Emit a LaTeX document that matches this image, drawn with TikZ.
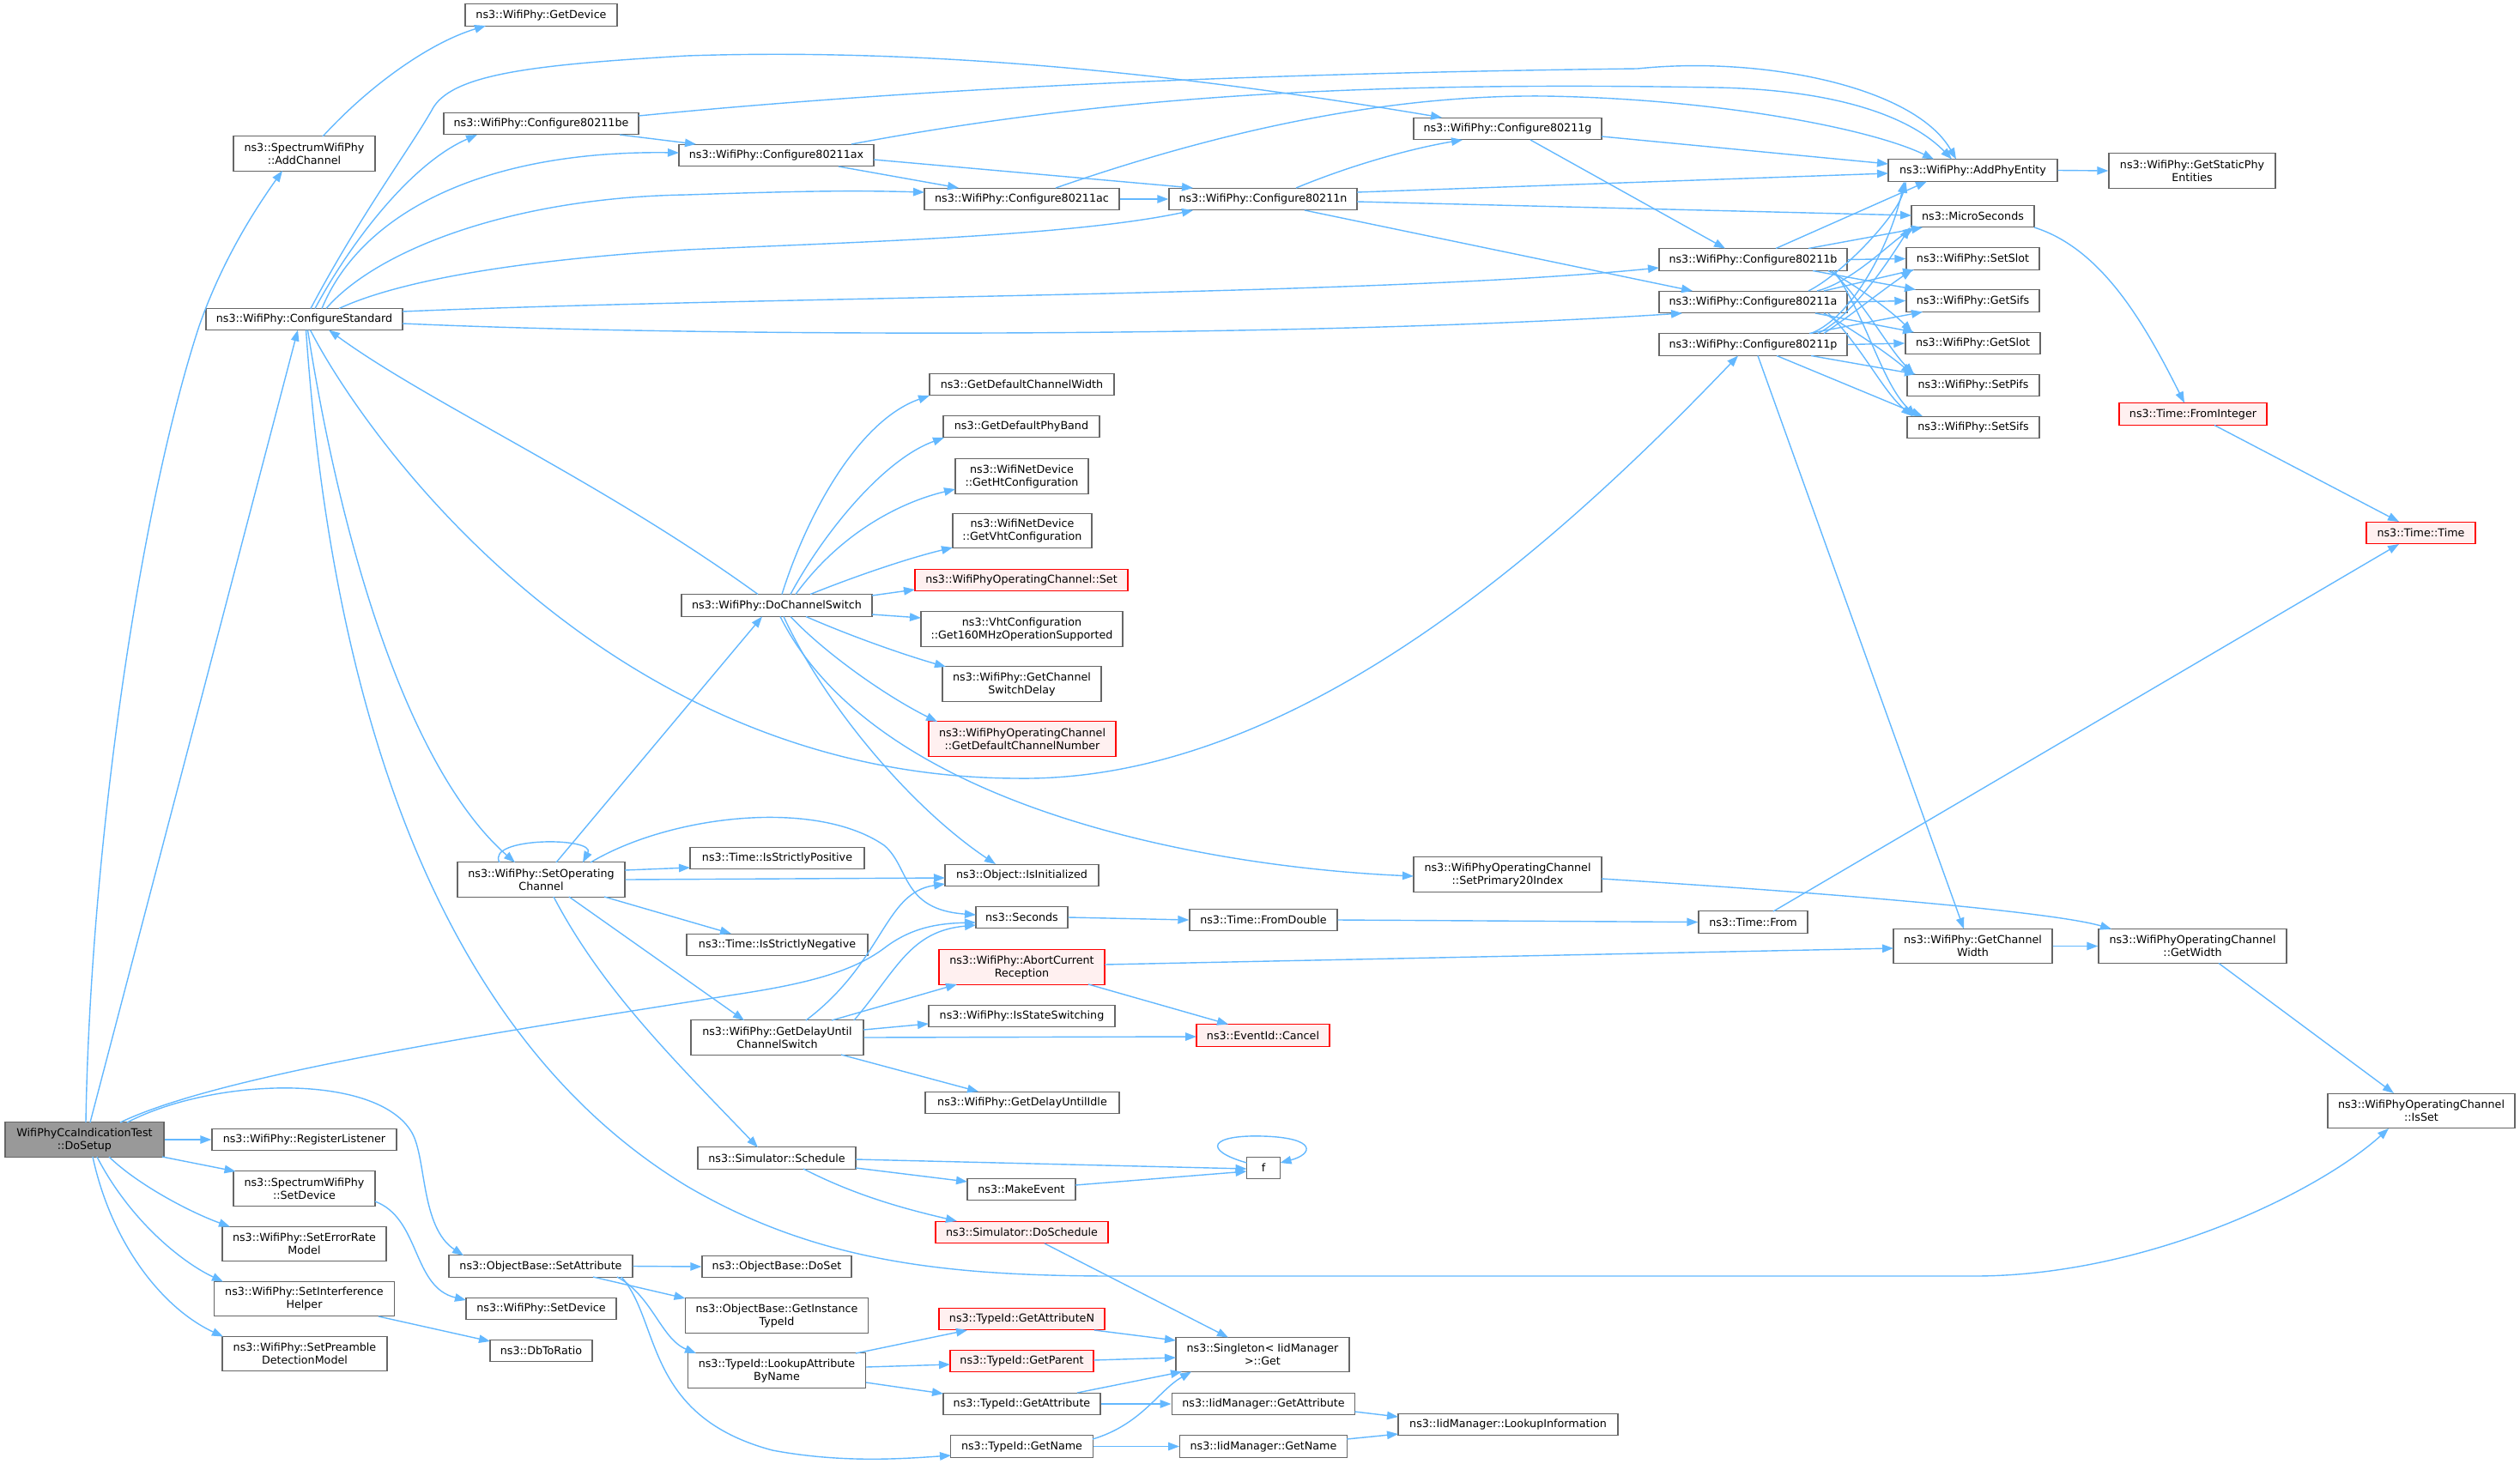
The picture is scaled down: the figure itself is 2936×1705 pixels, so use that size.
\documentclass[tikz,border=0pt]{standalone}
\usepackage{fontspec}
\setmainfont{DejaVu Sans}
\usetikzlibrary{arrows.meta,calc}
\definecolor{edgec}{HTML}{63B8FF}
\definecolor{boxb}{HTML}{666666}
\definecolor{redfill}{HTML}{FFF0F0}
\definecolor{grayfill}{HTML}{999999}
\begin{document}
\begin{tikzpicture}[x=1pt,y=-1pt,
  box/.style={draw=boxb, fill=white, line width=1.4pt, inner sep=0pt, align=center, font=\fontsize{12.7}{15}\selectfont, minimum height=25.5pt},
  box2/.style={box, minimum height=40.5pt},
  redbox/.style={draw=red, fill=redfill},
  rootbox/.style={fill=grayfill},
  edge/.style={draw=edgec, line width=1.4pt, -{Triangle[length=13pt,width=9.5pt]}},
]
\useasboundingbox (0,0) rectangle (2936,1705);
% ---------------- nodes ----------------
\node[box2, rootbox, minimum width=185pt] (dosetup) at (98.5,1328) {WifiPhyCcaIndicationTest\\::DoSetup};
\node[box, minimum width=177pt] (getdevice) at (630.5,17.5) {ns3::WifiPhy::GetDevice};
\node[box2, minimum width=165pt] (addchannel) at (354.5,179) {ns3::SpectrumWifiPhy\\::AddChannel};
\node[box, minimum width=229pt] (cfgstd) at (354.5,372) {ns3::WifiPhy::ConfigureStandard};
\node[box, minimum width=227pt] (be) at (630.5,144) {ns3::WifiPhy::Configure80211be};
\node[box, minimum width=227pt] (ax) at (904.5,181) {ns3::WifiPhy::Configure80211ax};
\node[box, minimum width=227pt] (ac) at (1190.5,232) {ns3::WifiPhy::Configure80211ac};
\node[box, minimum width=219pt] (nn) at (1471.5,232) {ns3::WifiPhy::Configure80211n};
\node[box, minimum width=219pt] (gg) at (1756.5,150) {ns3::WifiPhy::Configure80211g};
\node[box, minimum width=219pt] (bb) at (2042.5,302.5) {ns3::WifiPhy::Configure80211b};
\node[box, minimum width=219pt] (aa) at (2042.5,352) {ns3::WifiPhy::Configure80211a};
\node[box, minimum width=219pt] (pp) at (2042.5,401.5) {ns3::WifiPhy::Configure80211p};
\node[box, minimum width=197pt] (addphy) at (2298.5,198.5) {ns3::WifiPhy::AddPhyEntity};
\node[box2, minimum width=194pt] (getstatic) at (2554,199) {ns3::WifiPhy::GetStaticPhy\\Entities};
\node[box, minimum width=143pt] (micro) at (2298.5,252) {ns3::MicroSeconds};
\node[box, minimum width=155pt] (setslot) at (2298.5,301.5) {ns3::WifiPhy::SetSlot};
\node[box, minimum width=155pt] (getsifs) at (2298.5,350.5) {ns3::WifiPhy::GetSifs};
\node[box, minimum width=157pt] (getslot) at (2298.5,400) {ns3::WifiPhy::GetSlot};
\node[box, minimum width=154pt] (setpifs) at (2299,449) {ns3::WifiPhy::SetPifs};
\node[box, minimum width=154pt] (setsifs) at (2299,498) {ns3::WifiPhy::SetSifs};
\node[box, redbox, minimum width=172pt] (fromint) at (2555,482.5) {ns3::Time::FromInteger};
\node[box, redbox, minimum width=127pt] (timetime) at (2820.5,621) {ns3::Time::Time};
\node[box, minimum width=215pt] (defcw) at (1190.5,448) {ns3::GetDefaultChannelWidth};
\node[box, minimum width=182pt] (defband) at (1190,497) {ns3::GetDefaultPhyBand};
\node[box2, minimum width=155pt] (htcfg) at (1190.5,555) {ns3::WifiNetDevice\\::GetHtConfiguration};
\node[box2, minimum width=162pt] (vhtcfg) at (1191,618.5) {ns3::WifiNetDevice\\::GetVhtConfiguration};
\node[box, redbox, minimum width=248pt] (opset) at (1190,676) {ns3::WifiPhyOperatingChannel::Set};
\node[box2, minimum width=235pt] (get160) at (1190.5,733) {ns3::VhtConfiguration\\::Get160MHzOperationSupported};
\node[box2, minimum width=185pt] (swdelay) at (1190.5,797) {ns3::WifiPhy::GetChannel\\SwitchDelay};
\node[box2, redbox, minimum width=218pt] (defchnum) at (1191,861) {ns3::WifiPhyOperatingChannel\\::GetDefaultChannelNumber};
\node[box, minimum width=222pt] (dochsw) at (905,705.5) {ns3::WifiPhy::DoChannelSwitch};
\node[box2, minimum width=195pt] (setopch) at (630.5,1025) {ns3::WifiPhy::SetOperating\\Channel};
\node[box, minimum width=203pt] (strictpos) at (905.5,1000) {ns3::Time::IsStrictlyPositive};
\node[box, minimum width=179pt] (isinit) at (1190.5,1020) {ns3::Object::IsInitialized};
\node[box, minimum width=107pt] (seconds) at (1190.5,1069) {ns3::Seconds};
\node[box, minimum width=172pt] (fromdouble) at (1472,1072) {ns3::Time::FromDouble};
\node[box, minimum width=211pt] (strictneg) at (905.5,1101) {ns3::Time::IsStrictlyNegative};
\node[box2, redbox, minimum width=193pt] (abort) at (1190.5,1127) {ns3::WifiPhy::AbortCurrent\\Reception};
\node[box2, minimum width=219pt] (setprim) at (1756.5,1019) {ns3::WifiPhyOperatingChannel\\::SetPrimary20Index};
\node[box, minimum width=127pt] (timefrom) at (2042.5,1074.5) {ns3::Time::From};
\node[box2, minimum width=185pt] (getcw) at (2298.5,1102.5) {ns3::WifiPhy::GetChannel\\Width};
\node[box2, minimum width=219pt] (getwidth) at (2554.5,1102.5) {ns3::WifiPhyOperatingChannel\\::GetWidth};
\node[box2, minimum width=218pt] (isset) at (2821,1294.5) {ns3::WifiPhyOperatingChannel\\::IsSet};
\node[box2, minimum width=201pt] (getdelay) at (905.5,1209) {ns3::WifiPhy::GetDelayUntil\\ChannelSwitch};
\node[box, minimum width=217pt] (stateswitch) at (1190.5,1184) {ns3::WifiPhy::IsStateSwitching};
\node[box, redbox, minimum width=155pt] (cancel) at (1471.5,1206.5) {ns3::EventId::Cancel};
\node[box, minimum width=226pt] (delayidle) at (1191,1285) {ns3::WifiPhy::GetDelayUntilIdle};
\node[box, minimum width=184pt] (schedule) at (905,1349.5) {ns3::Simulator::Schedule};
\node[box, minimum width=38.5pt] (fnode) at (1472,1361) {f};
\node[box, minimum width=126pt] (makeevent) at (1190,1386) {ns3::MakeEvent};
\node[box, redbox, minimum width=201pt] (doschedule) at (1190.5,1436) {ns3::Simulator::DoSchedule};
\node[box, minimum width=215pt] (reglist) at (354.5,1328) {ns3::WifiPhy::RegisterListener};
\node[box2, minimum width=165pt] (spsetdev) at (354.5,1385) {ns3::SpectrumWifiPhy\\::SetDevice};
\node[box2, minimum width=191pt] (errrate) at (354.5,1449.5) {ns3::WifiPhy::SetErrorRate\\Model};
\node[box2, minimum width=210pt] (interf) at (354.5,1513.5) {ns3::WifiPhy::SetInterference\\Helper};
\node[box2, minimum width=192pt] (preamble) at (355,1577.5) {ns3::WifiPhy::SetPreamble\\DetectionModel};
\node[box, minimum width=214pt] (setattr) at (630,1475.5) {ns3::ObjectBase::SetAttribute};
\node[box, minimum width=175pt] (wsetdev) at (630.5,1525) {ns3::WifiPhy::SetDevice};
\node[box, minimum width=119pt] (dbtoratio) at (630.5,1574) {ns3::DbToRatio};
\node[box, minimum width=174pt] (doset) at (905,1476) {ns3::ObjectBase::DoSet};
\node[box2, minimum width=213.5pt] (getinst) at (905,1533) {ns3::ObjectBase::GetInstance\\TypeId};
\node[box2, minimum width=207.5pt] (lookupattr) at (905,1597) {ns3::TypeId::LookupAttribute\\ByName};
\node[box, redbox, minimum width=193pt] (getattrn) at (1190.5,1537) {ns3::TypeId::GetAttributeN};
\node[box, redbox, minimum width=167pt] (getparent) at (1190.5,1586) {ns3::TypeId::GetParent};
\node[box, minimum width=183pt] (getattr) at (1190.5,1636) {ns3::TypeId::GetAttribute};
\node[box, minimum width=165.5pt] (getname) at (1190.5,1685.5) {ns3::TypeId::GetName};
\node[box2, minimum width=202pt] (singleton) at (1471,1578.5) {ns3::Singleton< IidManager\\>::Get};
\node[box, minimum width=213.5pt] (iidgetattr) at (1472,1636) {ns3::IidManager::GetAttribute};
\node[box, minimum width=194.5pt] (iidgetname) at (1472,1685.5) {ns3::IidManager::GetName};
\node[box, minimum width=256pt] (lookupinfo) at (1757,1660) {ns3::IidManager::LookupInformation};
% ---------------- edges ----------------
% DoSetup
\draw[edge] ($(dosetup)+(1.5,-20)$) .. controls (105,1000) and (160,600) .. (232,380) .. controls (260,300) and (300,240) .. ($(addchannel)+(-25.5,20)$);
\draw[edge] ($(dosetup)+(6.5,-20)$) -- ($(cfgstd)+(-7.5,12.5)$);
\draw[edge] ($(dosetup)+(41.5,-20)$) .. controls (260,1250) and (600,1200) .. (850,1160) .. controls (930,1148) and (990,1135) .. (1030,1105) .. controls (1060,1082) and (1090,1076) .. ($(seconds)+(-53.5,6)$);
\draw[edge] ($(dosetup)+(49.5,-20)$) .. controls (250,1255) and (440,1250) .. (480,1320) .. controls (497,1350) and (490,1430) .. ($(setattr)+(-90,-12.5)$);
\draw[edge] (dosetup.east) -- (reglist.west);
\draw[edge] ($(dosetup)+(90.5,20)$) -- ($(spsetdev)+(-80,-20)$);
\draw[edge] ($(dosetup)+(28.5,20)$) .. controls (160,1380) and (220,1412) .. ($(errrate)+(-86.5,-20)$);
\draw[edge] ($(dosetup)+(14.5,20)$) .. controls (150,1420) and (210,1470) .. ($(interf)+(-94.5,-20)$);
\draw[edge] ($(dosetup)+(9.5,20)$) .. controls (130,1450) and (190,1525) .. ($(preamble)+(-95,-20)$);
% AddChannel
\draw[edge] ($(addchannel)+(21.5,-20)$) .. controls (430,100) and (500,50) .. ($(getdevice)+(-64.5,12.5)$);
% ConfigureStandard
\draw[edge] ($(cfgstd)+(7.5,-12.5)$) .. controls (420,250) and (480,170) .. (505,125) .. controls (530,85) and (630,75) .. (800,65) .. controls (1100,55) and (1400,90) .. ($(gg)+(-76.5,-13)$);
\draw[edge] ($(cfgstd)+(12.5,-12.5)$) .. controls (410,280) and (480,190) .. ($(be)+(-74.5,13)$);
\draw[edge] ($(cfgstd)+(20.5,-12.5)$) .. controls (420,250) and (560,175) .. ($(ax)+(-113.5,-3)$);
\draw[edge] ($(cfgstd)+(25.5,-12.5)$) .. controls (440,290) and (600,230) .. (800,227) .. controls (950,222) and (1000,222) .. ($(ac)+(-113.5,-8)$);
\draw[edge] ($(cfgstd)+(40.5,-12.5)$) .. controls (480,320) and (650,300) .. (800,291) .. controls (1000,282) and (1250,275) .. ($(nn)+(-81.5,13)$);
\draw[edge] ($(cfgstd)+(114.5,-9)$) .. controls (900,345) and (1600,345) .. ($(bb)+(-109.5,9.5)$);
\draw[edge] ($(cfgstd)+(114.5,5)$) .. controls (800,392) and (1500,395) .. ($(aa)+(-82.5,13)$);
\draw[edge] ($(cfgstd)+(4,12.5)$) .. controls (400,650) and (480,900) .. ($(setopch)+(-30.5,-20)$);
\draw[edge] ($(cfgstd)+(2,12.5)$) .. controls (385,800) and (500,1200) .. (800,1382) .. controls (950,1470) and (1100,1487) .. (1300,1487) -- (2300,1487) .. controls (2500,1487) and (2700,1390) .. ($(isset)+(-38,20.5)$);
\draw[edge] ($(cfgstd)+(7,12.5)$) .. controls (420,500) and (700,905) .. (1184,907) .. controls (1500,912) and (1800,650) .. ($(pp)+(-17.5,13)$);
\draw[edge] ($(dochsw)+(-22,-13)$) .. controls (700,560) and (500,470) .. ($(cfgstd)+(28.5,12.5)$);
% 802.11be / ax / ac / n / g
\draw[edge] ($(be)+(113.5,-9)$) .. controls (1100,100) and (1500,85) .. (1908,80) .. controls (2050,65) and (2230,100) .. ($(addphy)+(-19.5,-13)$);
\draw[edge] ($(be)+(91.5,13)$) -- ($(ax)+(-93.5,-13)$);
\draw[edge] ($(ax)+(87.5,-13)$) .. controls (1300,110) and (1600,95) .. (2000,102) .. controls (2150,105) and (2230,140) .. ($(addphy)+(-24.5,-13)$);
\draw[edge] ($(ax)+(72.5,13)$) -- ($(ac)+(-73.5,-13)$);
\draw[edge] ($(ax)+(113.5,5)$) -- ($(nn)+(-81.5,-13)$);
\draw[edge] (ac.east) -- (nn.west);
\draw[edge] ($(ac)+(39.5,-13)$) .. controls (1400,160) and (1600,110) .. (1800,112) .. controls (2000,115) and (2180,150) .. ($(addphy)+(-45.5,-13)$);
\draw[edge] ($(nn)+(38.5,-13)$) .. controls (1580,190) and (1650,172) .. ($(gg)+(-52.5,13)$);
\draw[edge] ($(nn)+(109.5,-8)$) -- ($(addphy)+(-98.5,3.5)$);
\draw[edge] ($(nn)+(109.5,3)$) -- ($(micro)+(-71.5,-1)$);
\draw[edge] ($(nn)+(48.5,13)$) -- ($(aa)+(-70.5,-13)$);
\draw[edge] ($(gg)+(109.5,9)$) -- ($(addphy)+(-98.5,-7.5)$);
\draw[edge] ($(gg)+(26.5,13)$) -- ($(bb)+(-32.5,-13)$);
% 802.11b
\draw[edge] ($(bb)+(26.5,-13)$) -- ($(addphy)+(-53.5,13)$);
\draw[edge] ($(bb)+(64.5,-13)$) -- ($(micro)+(-58.5,13)$);
\draw[edge] (bb.east) -- (setslot.west);
\draw[edge] ($(bb)+(69.5,13)$) -- ($(getsifs)+(-66.5,-13)$);
\draw[edge] ($(bb)+(87.5,13)$) .. controls +(30,15) and +(-25,-25) .. ($(getslot)+(-70.5,-13)$);
\draw[edge] ($(bb)+(91.5,13)$) .. controls +(40,40) and +(-30,-30) .. ($(setpifs)+(-69,-13)$);
\draw[edge] ($(bb)+(94.5,13)$) .. controls +(40,60) and +(-40,-40) .. ($(setsifs)+(-67,-13)$);
% 802.11a
\draw[edge] ($(aa)+(64.5,-13)$) .. controls +(40,-20) and +(-10,40) .. ($(addphy)+(-78,13)$);
\draw[edge] ($(aa)+(74.5,-13)$) .. controls +(40,-10) and +(-30,20) .. ($(micro)+(-68.5,13)$);
\draw[edge] ($(aa)+(82.5,-13)$) -- ($(setslot)+(-68.5,13)$);
\draw[edge] (aa.east) -- (getsifs.west);
\draw[edge] ($(aa)+(72.5,13)$) -- ($(getslot)+(-68.5,-13)$);
\draw[edge] ($(aa)+(82.5,13)$) .. controls +(35,20) and +(-30,-25) .. ($(setpifs)+(-71,-13)$);
\draw[edge] ($(aa)+(87.5,13)$) .. controls +(40,40) and +(-35,-30) .. ($(setsifs)+(-71,-13)$);
% 802.11p
\draw[edge] ($(pp)+(67.5,-13)$) .. controls +(50,-20) and +(-15,70) .. ($(addphy)+(-80,13)$);
\draw[edge] ($(pp)+(75.5,-13)$) .. controls +(40,-20) and +(-25,40) .. ($(micro)+(-73.5,13)$);
\draw[edge] ($(pp)+(82.5,-13)$) .. controls +(30,-20) and +(-30,20) .. ($(setslot)+(-70.5,13)$);
\draw[edge] ($(pp)+(65.5,-13)$) -- ($(getsifs)+(-58.5,13)$);
\draw[edge] (pp.east) -- (getslot.west);
\draw[edge] ($(pp)+(67.5,13)$) -- ($(setpifs)+(-67,-13)$);
\draw[edge] ($(pp)+(27.5,13)$) -- ($(setsifs)+(-59,-13)$);
\draw[edge] ($(pp)+(5.5,13)$) -- ($(getcw)+(-10.5,-20)$);
% right part
\draw[edge] (addphy.east) -- (getstatic.west);
\draw[edge] ($(micro)+(71.5,13)$) .. controls (2450,290) and (2500,380) .. ($(fromint)+(-10,-13)$);
\draw[edge] ($(fromint)+(25,13)$) -- ($(timetime)+(-25.5,-13)$);
\draw[edge] ($(timefrom)+(23.5,-12.5)$) -- ($(timetime)+(-25.5,13)$);
\draw[edge] (fromdouble.east) -- (timefrom.west);
\draw[edge] (seconds.east) -- (fromdouble.west);
\draw[edge] ($(setprim)+(109.5,5)$) .. controls (2200,1045) and (2400,1065) .. ($(getwidth)+(-94.5,-20)$);
\draw[edge] (getcw.east) -- (getwidth.west);
\draw[edge] ($(getwidth)+(30.5,20)$) -- ($(isset)+(-32,-20.5)$);
\draw[edge] ($(abort)+(96.5,-3)$) -- ($(getcw)+(-92.5,2.5)$);
\draw[edge] ($(abort)+(77.5,20)$) -- ($(cancel)+(-40.5,-13)$);
% DoChannelSwitch
\draw[edge] ($(dochsw)+(6,-13)$) .. controls (940,600) and (1000,490) .. ($(defcw)+(-107.5,13)$);
\draw[edge] ($(dochsw)+(16,-13)$) .. controls (960,620) and (1030,535) .. ($(defband)+(-90,13)$);
\draw[edge] ($(dochsw)+(22,-13)$) .. controls (980,620) and (1050,585) .. ($(htcfg)+(-77.5,15)$);
\draw[edge] ($(dochsw)+(39,-13)$) .. controls (1000,670) and (1060,650) .. ($(vhtcfg)+(-81,19.5)$);
\draw[edge] ($(dochsw)+(111,-11.5)$) -- ($(opset)+(-124,11)$);
\draw[edge] ($(dochsw)+(111,10.5)$) -- ($(get160)+(-117.5,-13)$);
\draw[edge] ($(dochsw)+(34,13)$) .. controls (1000,745) and (1060,765) .. ($(swdelay)+(-88.5,-20)$);
\draw[edge] ($(dochsw)+(16,13)$) .. controls (960,760) and (1030,810) .. ($(defchnum)+(-99,-20)$);
\draw[edge] ($(dochsw)+(8,13)$) .. controls (960,820) and (1060,940) .. ($(isinit)+(-30.5,-13)$);
\draw[edge] ($(dochsw)+(4,13)$) .. controls (1020,940) and (1400,1010) .. ($(setprim)+(-109.5,2)$);
% SetOperatingChannel
\draw[edge] ($(setopch)+(-48.5,-20)$) .. controls (565,975) and (695,975) .. ($(setopch)+(48.5,-20)$);
\draw[edge] ($(setopch)+(17.5,-20)$) -- ($(dochsw)+(-17,13)$);
\draw[edge] ($(setopch)+(97.5,-11)$) -- ($(strictpos)+(-101.5,11)$);
\draw[edge] (setopch.east) -- ($(isinit)+(-89.5,3)$);
\draw[edge] ($(setopch)+(73.5,20)$) -- ($(strictneg)+(-53.5,-13)$);
\draw[edge] ($(setopch)+(57.5,-20)$) .. controls (780,950) and (950,930) .. (1030,985) .. controls (1060,1010) and (1050,1060) .. ($(seconds)+(-53.5,-3)$);
\draw[edge] ($(setopch)+(32.5,20)$) -- ($(getdelay)+(-38.5,-20)$);
\draw[edge] ($(setopch)+(14.5,20)$) .. controls (700,1150) and (780,1230) .. ($(schedule)+(-22,-12.5)$);
% GetDelayUntilChannelSwitch
\draw[edge] ($(getdelay)+(33.5,-20)$) .. controls (1030,1120) and (1030,1040) .. ($(isinit)+(-89.5,10)$);
\draw[edge] ($(getdelay)+(89.5,-20)$) .. controls (1045,1130) and (1060,1085) .. ($(seconds)+(-53.5,9)$);
\draw[edge] ($(getdelay)+(63.5,-20)$) -- ($(abort)+(-75.5,20)$);
\draw[edge] ($(getdelay)+(100.5,-9)$) -- ($(stateswitch)+(-108.5,9)$);
\draw[edge] (getdelay.east) -- ($(cancel)+(-77.5,1.5)$);
\draw[edge] ($(getdelay)+(74.5,20)$) -- ($(delayidle)+(-51,-13)$);
% Schedule
\draw[edge] ($(schedule)+(92,1.5)$) -- ($(fnode)+(-19.5,1)$);
\draw[edge] ($(schedule)+(92,11.5)$) -- ($(makeevent)+(-63,-9)$);
\draw[edge] ($(schedule)+(31,12.5)$) .. controls (1000,1395) and (1060,1410) .. ($(doschedule)+(-75.5,-13)$);
\draw[edge] ($(makeevent)+(63,-5)$) -- ($(fnode)+(-19.5,4)$);
\draw[edge] ($(fnode)+(-19.5,-6)$) .. controls (1400,1340) and (1410,1322) .. (1472,1324) .. controls (1535,1326) and (1530,1345) .. ($(fnode)+(19.5,-6)$);
\draw[edge] ($(doschedule)+(26.5,13)$) -- ($(singleton)+(-40,-20)$);
% SetAttribute
\draw[edge] (setattr.east) -- (doset.west);
\draw[edge] ($(setattr)+(61,12.5)$) -- ($(getinst)+(-106.5,-20)$);
\draw[edge] ($(setattr)+(89,12.5)$) .. controls (760,1510) and (770,1560) .. ($(lookupattr)+(-94,-20)$);
\draw[edge] ($(setattr)+(94,12.5)$) .. controls (770,1540) and (750,1650) .. (900,1690) .. controls (980,1705) and (1050,1700) .. ($(getname)+(-82.5,10.5)$);
\draw[edge] ($(lookupattr)+(92,-20)$) -- ($(getattrn)+(-63.5,13)$);
\draw[edge] ($(lookupattr)+(104,-4)$) -- ($(getparent)+(-83.5,4)$);
\draw[edge] ($(lookupattr)+(104,14)$) -- ($(getattr)+(-91.5,-12)$);
\draw[edge] ($(getattrn)+(84.5,13)$) -- ($(singleton)+(-101,-16.5)$);
\draw[edge] ($(getparent)+(83.5,-1)$) -- ($(singleton)+(-101,3.5)$);
\draw[edge] ($(getattr)+(64.5,-13)$) -- ($(singleton)+(-94,20)$);
\draw[edge] ($(getname)+(82.5,-8.5)$) .. controls (1330,1660) and (1350,1620) .. ($(singleton)+(-83,20)$);
\draw[edge] (getattr.east) -- (iidgetattr.west);
\draw[edge] (getname.east) -- (iidgetname.west);
\draw[edge] ($(iidgetattr)+(106.5,9)$) -- ($(lookupinfo)+(-128,-9)$);
\draw[edge] ($(iidgetname)+(97,-8.5)$) -- ($(lookupinfo)+(-128,11)$);
\draw[edge] ($(spsetdev)+(82.5,15)$) .. controls (490,1420) and (480,1500) .. ($(wsetdev)+(-87.5,-10)$);
\draw[edge] ($(interf)+(86.5,20.5)$) -- ($(dbtoratio)+(-59.5,-11)$);
\end{tikzpicture}
\end{document}
